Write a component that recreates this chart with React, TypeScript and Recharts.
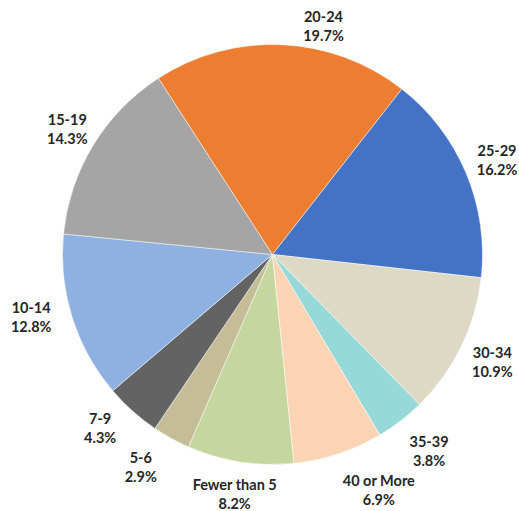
import { PieChart, Pie, Cell } from "recharts";

const categories = [
  "Fewer than 5",
  "5-6",
  "7-9",
  "10-14",
  "15-19",
  "20-24",
  "25-29",
  "30-34",
  "35-39",
  "40 or More",
];
const shares = [8.2, 2.9, 4.3, 12.8, 14.3, 19.7, 16.2, 10.9, 3.8, 6.9];
const colors = [
  "#C5D79E",
  "#C4BD97",
  "#636363",
  "#8EB1E1",
  "#A5A5A5",
  "#ED7D31",
  "#4472C4",
  "#DDD9C4",
  "#97D9D8",
  "#FBD4B4",
];

const data = categories.map((name, i) => ({ name, value: shares[i] }));

const W = 519;
const H = 511;

// labels Excel nudged off the radial position
const labelNudge: Record<string, { da: number; dr: number }> = {
  "20-24": { da: 10, dr: -8 },
  "40 or More": { da: -6, dr: 6 },
  "35-39": { da: -1, dr: 5 },
  "5-6": { da: 3, dr: 6 },
  "7-9": { da: 3, dr: 1 },
  "10-14": { da: 3, dr: 7 },
  "15-19": { da: 0, dr: -5 },
};

const RAD = Math.PI / 180;

function renderLabel(props: any) {
  const { cx, cy, midAngle, outerRadius, name, value } = props;
  const nudge = labelNudge[name] || { da: 0, dr: 0 };
  // clockwise angle from 12 o'clock
  const theta = 90 - midAngle + nudge.da;
  const pct = `${value.toFixed(1)}%`;
  const w = Math.max(name.length, pct.length) * 7.2;
  const h = 38;
  const r =
    outerRadius +
    10 +
    Math.abs(Math.sin(theta * RAD)) * (w / 2) +
    Math.abs(Math.cos(theta * RAD)) * (h / 2) +
    nudge.dr;
  let x = cx + r * Math.sin(theta * RAD);
  let y = cy - r * Math.cos(theta * RAD);
  // keep text inside the chart area
  const half = Math.max(name.length, pct.length) * 4;
  x = Math.min(Math.max(x, half + 2), W - half - 2);
  y = Math.min(Math.max(y, 18), H - 17);
  return (
    <text
      x={x}
      y={y}
      textAnchor="middle"
      fill="#262626"
      fontFamily="Lato, 'Open Sans', sans-serif"
      fontWeight="bold"
      fontSize={14.5}
    >
      <tspan x={x} y={y - 9.5} dominantBaseline="central">
        {name}
      </tspan>
      <tspan x={x} y={y + 9.5} dominantBaseline="central">
        {pct}
      </tspan>
    </text>
  );
}

export default function App() {
  return (
    <div style={{ position: "fixed", left: 0, top: 0, width: W, height: H, background: "#fff" }}>
      <PieChart width={W} height={H} margin={{ top: 0, right: 0, bottom: 0, left: 0 }}>
        <Pie
          data={data}
          dataKey="value"
          nameKey="name"
          cx={272.5}
          cy={254.5}
          outerRadius={210}
          startAngle={-84.1}
          endAngle={-444.1}
          stroke="#fff"
          strokeWidth={0.5}
          label={renderLabel}
          labelLine={false}
          isAnimationActive={false}
        >
          {data.map((entry, i) => (
            <Cell key={entry.name} fill={colors[i]} />
          ))}
        </Pie>
      </PieChart>
    </div>
  );
}
